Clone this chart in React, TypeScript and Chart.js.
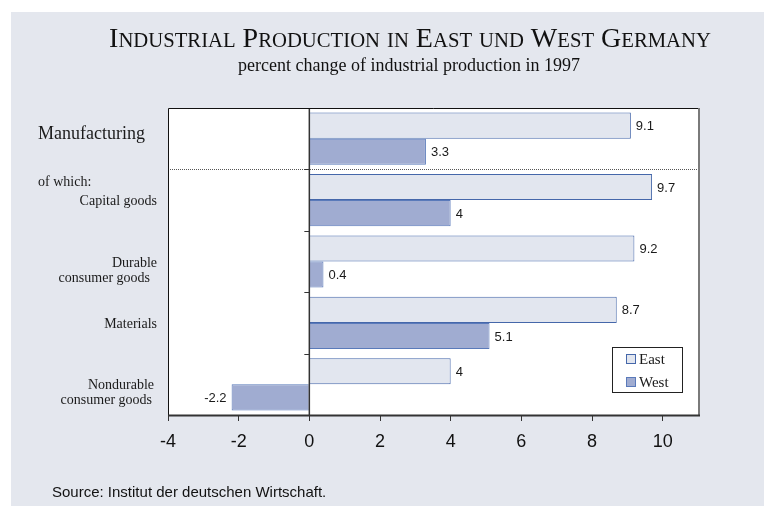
import { useEffect, useRef } from 'react';
import { Chart, registerables } from 'chart.js';

Chart.register(...registerables);

const categories: string[][] = [
  ['Manufacturing'],
  ['Capital goods'],
  ['Durable', 'consumer goods'],
  ['Materials'],
  ['Nondurable', 'consumer goods'],
];
const seriesNames = ['East', 'West'];
const eastValues = [9.1, 9.7, 9.2, 8.7, 4];
const westValues = [3.3, 4, 0.4, 5.1, -2.2];
const xTicks = [-4, -2, 0, 2, 4, 6, 8, 10];
const titleText = 'Industrial Production in East und West Germany';
const subtitleText = 'percent change of industrial production in 1997';
const subheadText = 'of which:';
const sourceText = 'Source: Institut der deutschen Wirtschaft.';

const SERIF = "'Liberation Serif', 'Times New Roman', serif";
const SANS = "'Liberation Sans Narrow', 'Arial Narrow', 'Liberation Sans', Arial, sans-serif";
const SANS_REG = "'Liberation Sans', Arial, sans-serif";

const PANEL = '#e4e7ee';
const EAST_FILL = '#e2e6ef';
const EAST_BORDER = '#4567aa';
const WEST_FILL = '#a0acd1';
const WEST_BORDER = '#5a7aba';

function drawSmallCaps(ctx: CanvasRenderingContext2D, text: string, cx: number, y: number, big: number, small: number) {
  const parts = Array.from(text).map((ch) => {
    const upper = ch !== ch.toLowerCase() || ch === ' ';
    return { t: ch.toUpperCase(), size: upper ? big : small, w: 0 };
  });
  let total = 0;
  for (const p of parts) {
    ctx.font = `${p.size}px ${SERIF}`;
    p.w = ctx.measureText(p.t).width;
    total += p.w;
  }
  let x = cx - total / 2;
  ctx.textAlign = 'left';
  ctx.textBaseline = 'alphabetic';
  for (const p of parts) {
    ctx.font = `${p.size}px ${SERIF}`;
    ctx.fillText(p.t, x, y);
    x += p.w;
  }
}

const decorPlugin = {
  id: 'decor',
  beforeDraw(chart: any) {
    const { ctx, chartArea } = chart;
    ctx.save();
    ctx.fillStyle = '#ffffff';
    ctx.fillRect(0, 0, chart.width, chart.height);
    ctx.fillStyle = PANEL;
    ctx.fillRect(11, 12, chart.width - 11, chart.height - 12);
    ctx.fillStyle = '#ffffff';
    ctx.fillRect(chartArea.left, chartArea.top, chartArea.right - chartArea.left, chartArea.bottom - chartArea.top);
    ctx.restore();
  },
  afterDatasetsDraw(chart: any) {
    const { ctx, chartArea } = chart;
    const xs = chart.scales.x;
    const ys = chart.scales.y;
    const { left, right, top, bottom } = chartArea;
    ctx.save();

    // category boundaries
    const centers = categories.map((_, i) => ys.getPixelForValue(i));
    const bounds: number[] = [];
    for (let i = 0; i < centers.length - 1; i++) bounds.push((centers[i] + centers[i + 1]) / 2);

    // dotted separator below Manufacturing
    ctx.strokeStyle = '#555';
    ctx.lineWidth = 1;
    ctx.setLineDash([1, 1]);
    ctx.beginPath();
    ctx.moveTo(left, Math.round(bounds[0]) + 0.5);
    ctx.lineTo(right, Math.round(bounds[0]) + 0.5);
    ctx.stroke();
    ctx.setLineDash([]);

    // zero line + small ticks
    const x0 = xs.getPixelForValue(0);
    ctx.strokeStyle = '#333';
    ctx.lineWidth = 1.5;
    ctx.beginPath();
    ctx.moveTo(x0, top);
    ctx.lineTo(x0, bottom);
    ctx.stroke();
    ctx.lineWidth = 1;
    ctx.beginPath();
    for (const b of bounds) {
      const yy = Math.round(b) + 0.5;
      ctx.moveTo(x0 - 5, yy);
      ctx.lineTo(x0, yy);
    }
    ctx.stroke();

    // frame
    ctx.strokeStyle = '#111';
    ctx.lineWidth = 1;
    ctx.beginPath();
    ctx.moveTo(left + 0.5, bottom);
    ctx.lineTo(left + 0.5, top + 0.5);
    ctx.lineTo(right, top + 0.5);
    ctx.stroke();
    ctx.strokeStyle = '#7a7a7a';
    ctx.lineWidth = 2;
    ctx.beginPath();
    ctx.moveTo(right + 1, top);
    ctx.lineTo(right + 1, bottom);
    ctx.stroke();
    ctx.strokeStyle = '#333';
    ctx.lineWidth = 2;
    ctx.beginPath();
    ctx.moveTo(left, bottom + 0.5);
    ctx.lineTo(right + 2, bottom + 0.5);
    ctx.stroke();

    // value labels
    ctx.fillStyle = '#1a1a1a';
    ctx.font = `13px ${SANS_REG}`;
    ctx.textBaseline = 'middle';
    chart.data.datasets.forEach((ds: any, di: number) => {
      const meta = chart.getDatasetMeta(di);
      meta.data.forEach((bar: any, i: number) => {
        const v = ds.data[i];
        if (v >= 0) {
          ctx.textAlign = 'left';
          ctx.fillText(String(v), bar.x + 5, bar.y + 1);
        } else {
          ctx.textAlign = 'right';
          ctx.fillText(String(v), bar.x - 5, bar.y + 1);
        }
      });
    });

    // category labels
    ctx.fillStyle = '#1a1a1a';
    ctx.textBaseline = 'alphabetic';
    categories.forEach((lines, i) => {
      const c = centers[i];
      if (i === 0) {
        ctx.font = `18px ${SERIF}`;
        ctx.textAlign = 'left';
        ctx.fillText(lines[0], 38, c + 0.5);
        return;
      }
      ctx.font = `14px ${SERIF}`;
      ctx.textAlign = 'right';
      lines.forEach((ln, li) => {
        const rx = li === 0 ? (lines.length > 1 && i === 4 ? 154 : 157) : (i === 2 ? 150 : 152);
        ctx.fillText(ln, rx, c + 5 + li * 15);
      });
    });
    ctx.font = `14px ${SERIF}`;
    ctx.textAlign = 'left';
    ctx.fillText(subheadText, 38, bounds[0] + 17);

    // legend
    const lx = 612, ly = 347, lw = 70, lh = 45;
    ctx.fillStyle = '#ffffff';
    ctx.fillRect(lx, ly, lw, lh);
    ctx.strokeStyle = '#222';
    ctx.lineWidth = 1;
    ctx.strokeRect(lx + 0.5, ly + 0.5, lw, lh);
    chart.data.datasets.forEach((ds: any, di: number) => {
      const sy = ly + 7 + di * 23;
      ctx.fillStyle = ds.backgroundColor;
      ctx.fillRect(lx + 14, sy, 10, 10);
      ctx.strokeStyle = ds.borderColor;
      ctx.strokeRect(lx + 14.5, sy + 0.5, 9, 9);
      ctx.fillStyle = '#1a1a1a';
      ctx.font = `15px ${SERIF}`;
      ctx.textAlign = 'left';
      ctx.fillText(ds.label, lx + 27, sy + 10);
    });

    // titles
    ctx.fillStyle = '#111';
    drawSmallCaps(ctx, titleText, 410, 47, 28, 20.7);
    ctx.font = `18px ${SERIF}`;
    ctx.textAlign = 'center';
    ctx.fillText(subtitleText, 409, 71);

    // source
    ctx.font = `15px ${SANS}`;
    ctx.textAlign = 'left';
    ctx.fillText(sourceText, 52, 497);

    ctx.restore();
  },
};

export default function App() {
  const ref = useRef<HTMLCanvasElement | null>(null);
  useEffect(() => {
    if (!ref.current) return;
    const chart = new Chart(ref.current, {
      type: 'bar',
      data: {
        labels: categories.map((c) => c.join(' ')),
        datasets: [
          {
            label: seriesNames[0],
            data: eastValues,
            backgroundColor: EAST_FILL,
            borderColor: EAST_BORDER,
            borderWidth: 1,
            categoryPercentage: 0.85,
            barPercentage: 1,
          },
          {
            label: seriesNames[1],
            data: westValues,
            backgroundColor: WEST_FILL,
            borderColor: WEST_BORDER,
            borderWidth: 1,
            categoryPercentage: 0.85,
            barPercentage: 1,
          },
        ],
      },
      options: {
        indexAxis: 'y',
        responsive: false,
        animation: false,
        devicePixelRatio: 1,
        layout: { padding: { left: 168, top: 108, right: 66, bottom: 41 } },
        plugins: { legend: { display: false }, tooltip: { enabled: false }, title: { display: false } },
        scales: {
          y: { display: false },
          x: {
            type: 'linear',
            min: -4,
            max: 11,
            afterBuildTicks: (scale: any) => {
              scale.ticks = xTicks.map((v) => ({ value: v }));
            },
            afterFit: (scale: any) => {
              scale.height = 50;
            },
            grid: { drawOnChartArea: false, drawTicks: true, tickLength: 6, tickColor: '#333', lineWidth: 1 },
            border: { display: false },
            ticks: {
              padding: 10,
              color: '#111',
              font: { family: SANS, size: 18 },
              maxRotation: 0,
              autoSkip: false,
            },
          },
        },
      },
      plugins: [decorPlugin],
    } as any);
    return () => chart.destroy();
  }, []);
  return (
    <div style={{ position: 'absolute', left: 0, top: 0, width: 764, height: 506 }}>
      <canvas ref={ref} width={764} height={506} style={{ display: 'block' }} />
    </div>
  );
}
